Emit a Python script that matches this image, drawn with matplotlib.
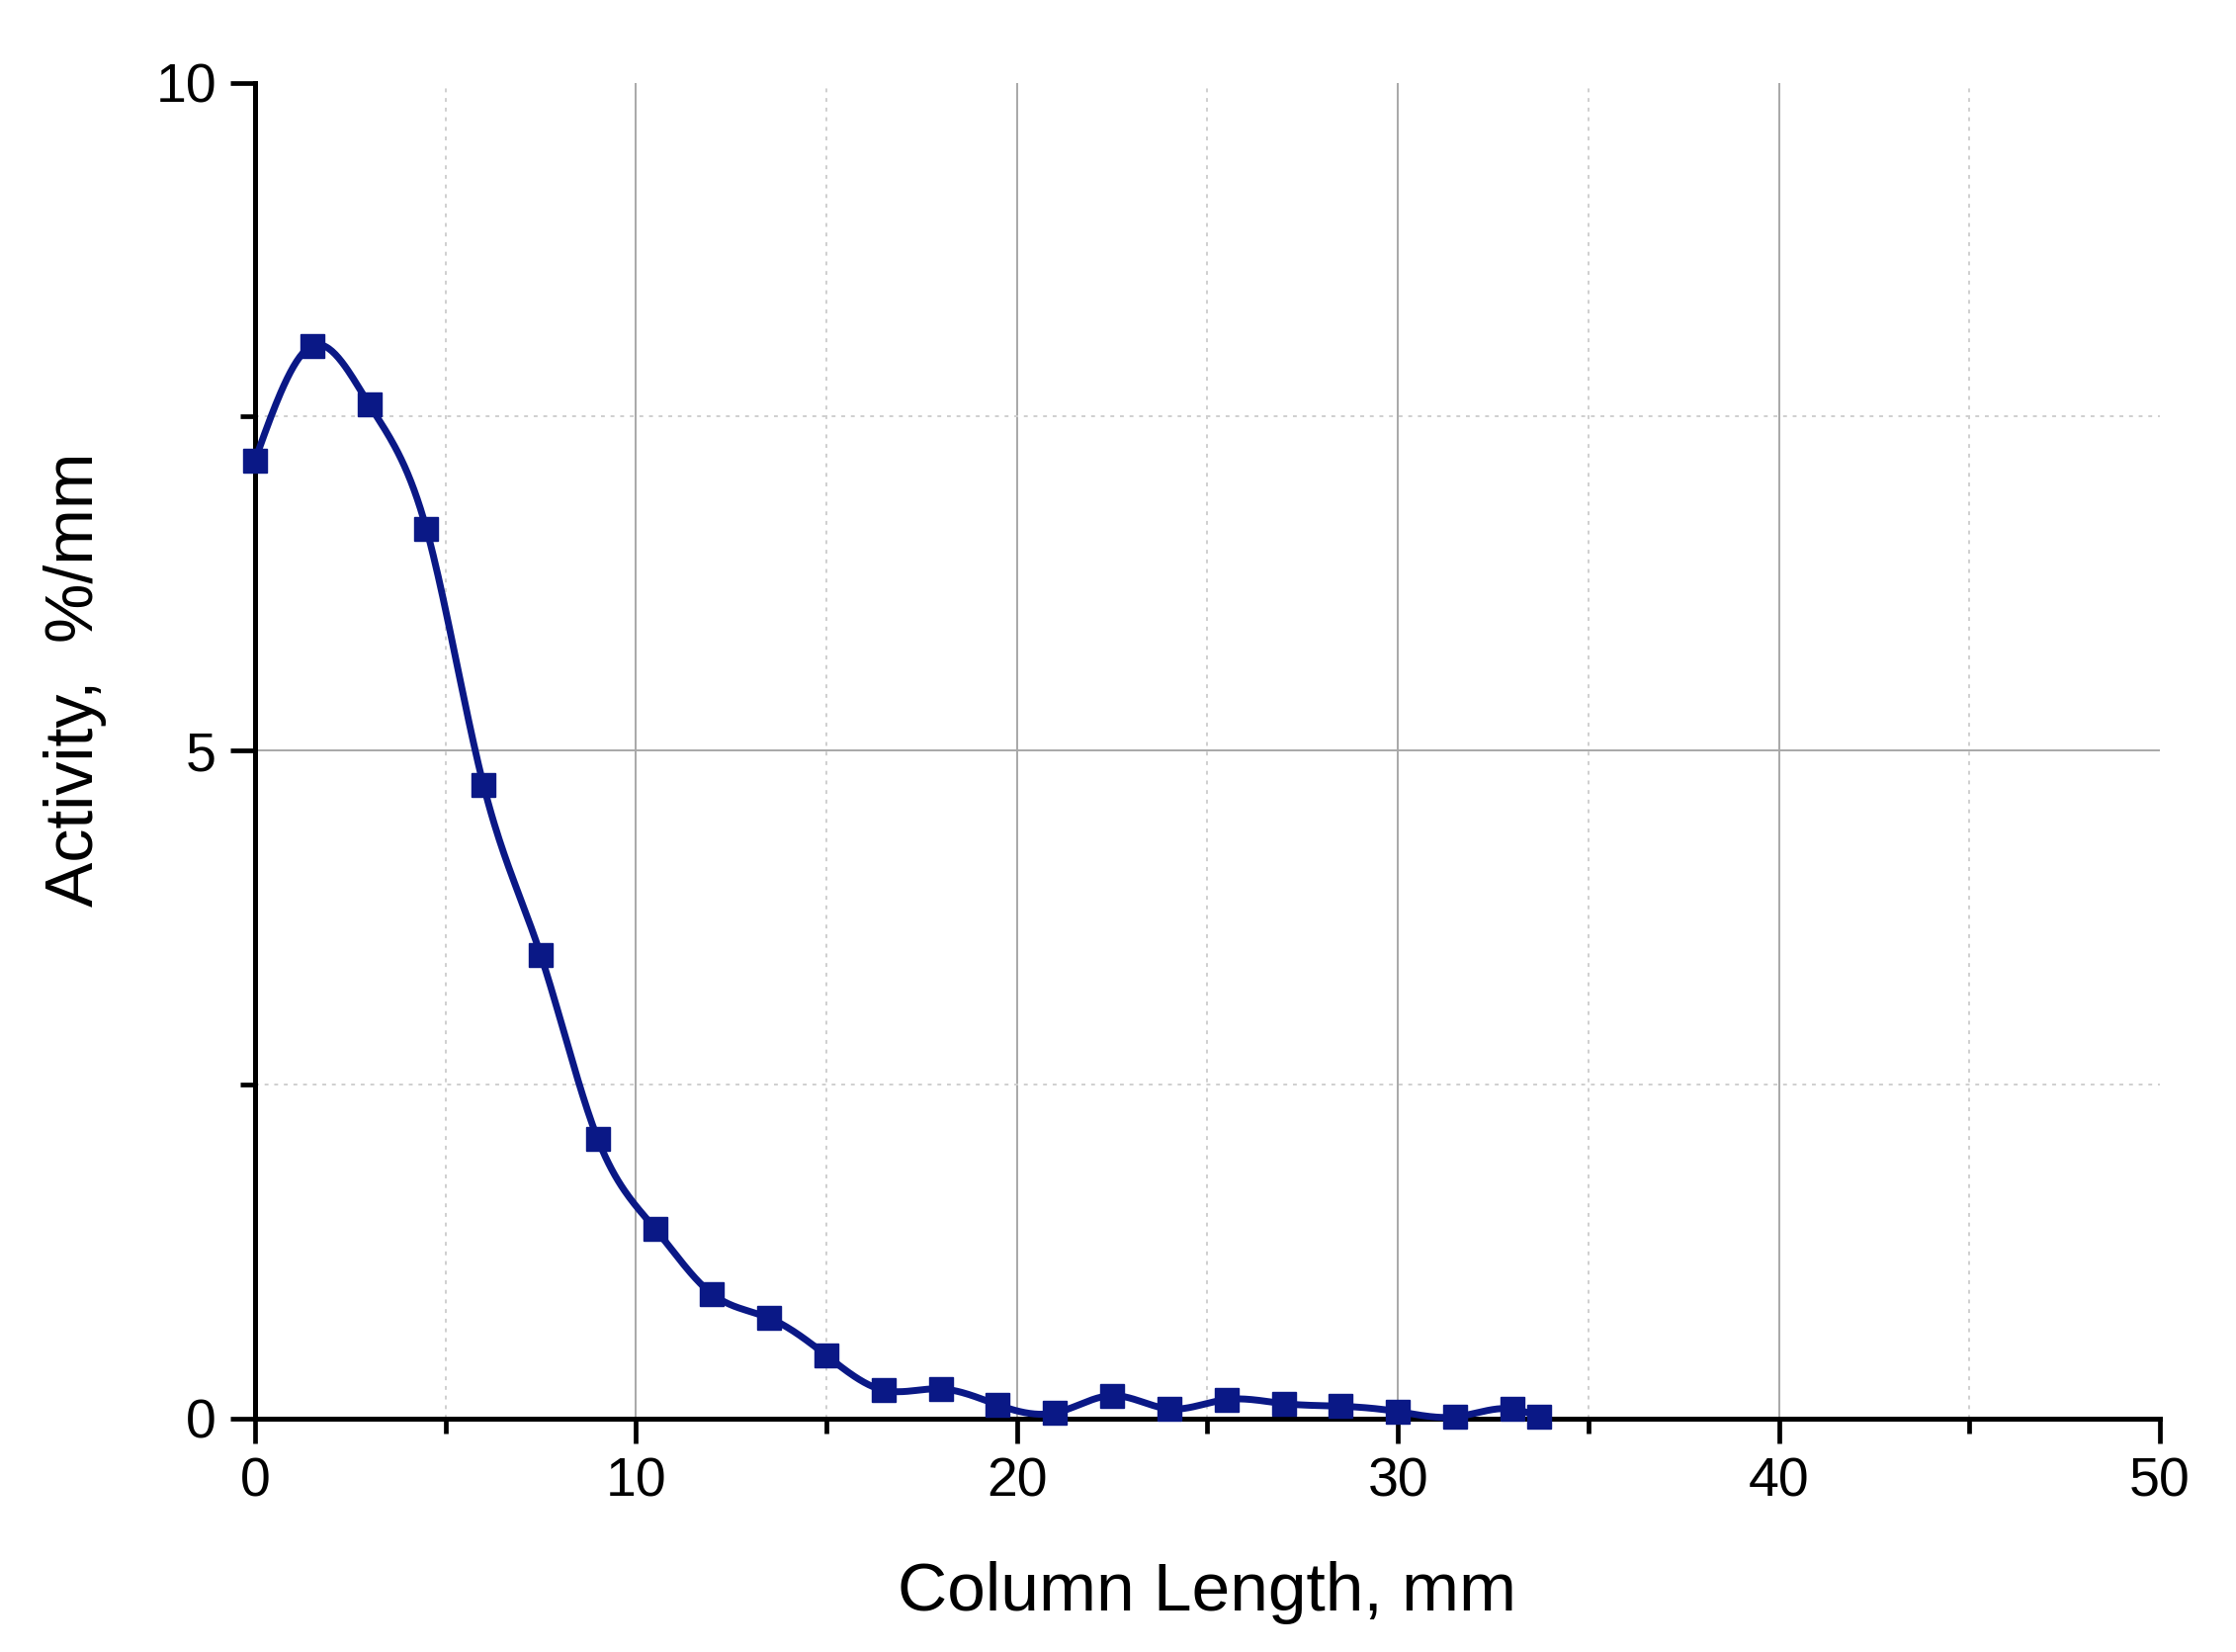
import numpy as np
import matplotlib
matplotlib.use("Agg")
import matplotlib.pyplot as plt
from matplotlib.ticker import MultipleLocator

plt.rcParams['font.family'] = ['Liberation Sans', 'DejaVu Sans']

# column length (mm) and activity (%/mm)
length_mm = [0, 1.5, 3, 4.5, 6, 7.5, 9, 10.5, 12, 13.5, 15, 16.5, 18, 19.5,
             21, 22.5, 24, 25.5, 27, 28.5, 30, 31.5, 33, 33.7]
activity = [7.17, 8.03, 7.59, 6.66, 4.74, 3.47, 2.09, 1.42, 0.93, 0.75, 0.47,
            0.21, 0.22, 0.10, 0.04, 0.17, 0.07, 0.14, 0.11, 0.09, 0.05, 0.01,
            0.07, 0.01]

x_ticks = [0, 10, 20, 30, 40, 50]
y_ticks = [0, 5, 10]


def natural_spline(x, y, n=800):
    # plain natural cubic spline so the line runs smoothly through the points
    x = np.asarray(x, float)
    y = np.asarray(y, float)
    h = np.diff(x)
    m = len(x)
    A = np.zeros((m, m))
    b = np.zeros(m)
    A[0, 0] = A[-1, -1] = 1
    for i in range(1, m - 1):
        A[i, i - 1] = h[i - 1]
        A[i, i] = 2 * (h[i - 1] + h[i])
        A[i, i + 1] = h[i]
        b[i] = 6 * ((y[i + 1] - y[i]) / h[i] - (y[i] - y[i - 1]) / h[i - 1])
    M = np.linalg.solve(A, b)
    xs = np.linspace(x[0], x[-1], n)
    idx = np.clip(np.searchsorted(x, xs) - 1, 0, m - 2)
    x0, x1 = x[idx], x[idx + 1]
    hh = x1 - x0
    t0, t1 = x1 - xs, xs - x0
    ys = (M[idx] * t0 ** 3 / (6 * hh) + M[idx + 1] * t1 ** 3 / (6 * hh)
          + (y[idx] / hh - M[idx] * hh / 6) * t0
          + (y[idx + 1] / hh - M[idx + 1] * hh / 6) * t1)
    return xs, ys


fig = plt.figure(figsize=(22.62, 16.71), dpi=100)
ax = fig.add_axes([0.114, 0.1415, 0.852, 0.8085])

line_color = '#0a1886'
xs, ys = natural_spline(length_mm, activity)
ax.plot(xs, ys, color=line_color, lw=5, zorder=3, clip_on=False)
ax.plot(length_mm, activity, 's', color=line_color, ms=17, zorder=4,
        clip_on=False)

ax.set_xlim(0, 50)
ax.set_ylim(0, 10)
ax.set_xticks(x_ticks)
ax.set_yticks(y_ticks)
ax.xaxis.set_minor_locator(MultipleLocator(5))
ax.yaxis.set_minor_locator(MultipleLocator(2.5))

ax.grid(which='major', color='#a8a8a8', lw=1.4, ls='-')
ax.grid(which='minor', color='#cfcfcf', lw=1.4, ls=(0, (2, 3)))
ax.set_axisbelow(True)
# no grid line on the far edges (x = 50, y = 10)
ax.xaxis.get_major_ticks()[-1].gridline.set_visible(False)
ax.yaxis.get_major_ticks()[-1].gridline.set_visible(False)

for side in ['top', 'right']:
    ax.spines[side].set_visible(False)
for side in ['left', 'bottom']:
    ax.spines[side].set_linewidth(3.6)
    ax.spines[side].set_color('black')

ax.tick_params(which='major', direction='out', length=18, width=3.4,
               labelsize=40, pad=10)
ax.tick_params(which='minor', direction='out', length=11, width=3.4)

ax.set_xlabel('Column Length, mm', fontsize=50)
ax.set_ylabel('Activity,  %/mm', fontsize=49)
ax.xaxis.set_label_coords(0.5, -0.107)
ax.yaxis.set_label_coords(-0.078, 0.553)

fig.savefig('out.png', dpi=100, facecolor='white')
